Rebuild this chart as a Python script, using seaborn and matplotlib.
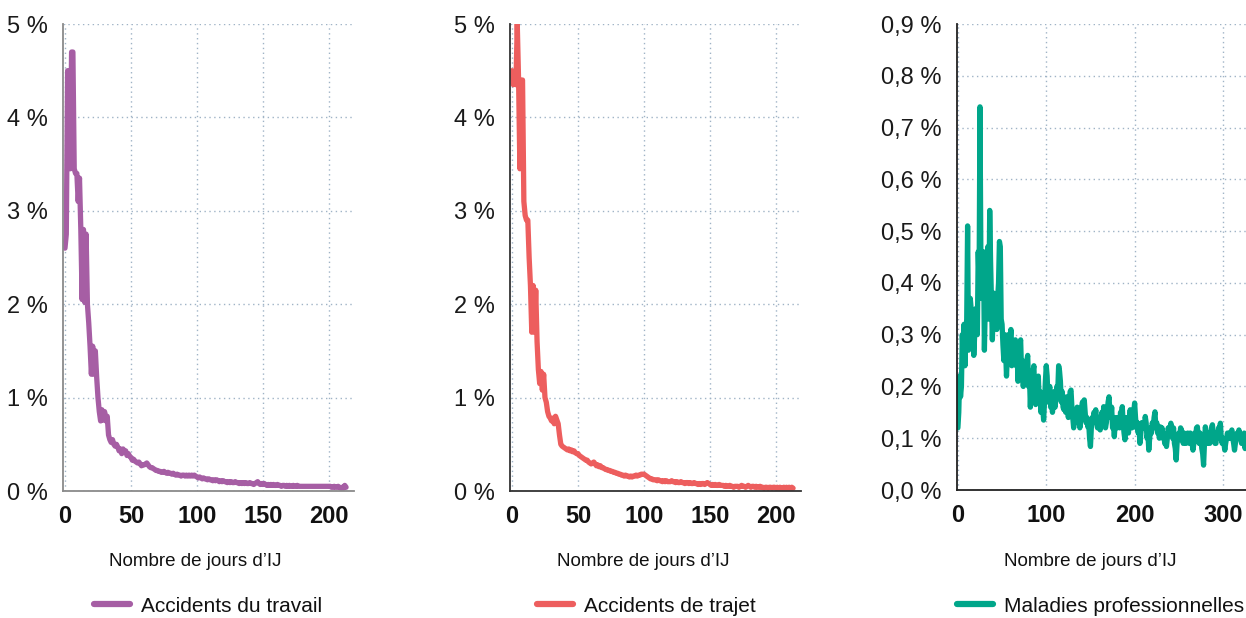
import matplotlib
matplotlib.use("Agg")
import matplotlib.pyplot as plt
from matplotlib import font_manager
from matplotlib.ticker import FuncFormatter, MultipleLocator
import numpy as np
import pandas as pd
import seaborn as sns

# Daily share (%) of indemnified cases by number of days of IJ
at_values = [
    2.6, 2.75, 4.5, 4.5, 3.45, 4.7, 4.7, 3.45, 3.4, 3.4,
    3.1, 3.35, 2.8, 2.05, 2.8, 2.02, 2.75, 2.0, 1.8, 1.55,
    1.25, 1.55, 1.25, 1.5, 1.22, 1.0, 0.85, 0.75, 0.87, 0.76,
    0.85, 0.75, 0.8, 0.6, 0.55, 0.52, 0.55, 0.5, 0.48, 0.5,
    0.47, 0.43, 0.45, 0.4, 0.45, 0.42, 0.43, 0.38, 0.40, 0.37,
    0.36, 0.33, 0.34, 0.32, 0.31, 0.30, 0.31, 0.29, 0.27, 0.28,
    0.28, 0.29, 0.30, 0.28, 0.26, 0.25, 0.25, 0.24, 0.23, 0.22,
    0.22, 0.21, 0.21, 0.20, 0.20, 0.21, 0.20, 0.19, 0.20, 0.19,
    0.19, 0.18, 0.19, 0.18, 0.17, 0.18, 0.17, 0.17, 0.16, 0.17,
    0.17, 0.16, 0.17, 0.16, 0.17, 0.16, 0.17, 0.16, 0.17, 0.16,
    0.15, 0.14, 0.15, 0.14, 0.13, 0.14, 0.13, 0.13, 0.12, 0.13,
    0.12, 0.12, 0.11, 0.12, 0.11, 0.12, 0.11, 0.10, 0.11, 0.10,
    0.11, 0.10, 0.10, 0.09, 0.10, 0.09, 0.10, 0.09, 0.09, 0.10,
    0.09, 0.09, 0.08, 0.09, 0.08, 0.09, 0.08, 0.09, 0.08, 0.08,
    0.09, 0.08, 0.08, 0.07, 0.08, 0.09, 0.10, 0.08, 0.07, 0.08,
    0.07, 0.08, 0.07, 0.06, 0.07, 0.06, 0.07, 0.06, 0.07, 0.06,
    0.06, 0.07, 0.06, 0.06, 0.05, 0.06, 0.06, 0.05, 0.06, 0.05,
    0.06, 0.05, 0.05, 0.06, 0.05, 0.05, 0.06, 0.05, 0.05, 0.05,
    0.05, 0.05, 0.05, 0.05, 0.05, 0.05, 0.05, 0.05, 0.05, 0.05,
    0.05, 0.05, 0.05, 0.05, 0.05, 0.05, 0.05, 0.05, 0.05, 0.05,
    0.05, 0.05, 0.04, 0.04, 0.05, 0.04, 0.04, 0.05, 0.04, 0.03,
    0.04, 0.03, 0.06, 0.04,
]

trajet_values = [
    4.5, 4.35, 4.4, 4.35, 5.0, 4.4, 3.45, 4.4, 4.4, 3.1,
    2.95, 2.9, 2.9, 2.5, 2.2, 1.7, 2.2, 1.7, 2.15, 1.6,
    1.3, 1.15, 1.28, 1.08, 1.25, 1.0, 0.95, 0.85, 0.8, 0.78,
    0.75, 0.78, 0.72, 0.8, 0.76, 0.72, 0.6, 0.5, 0.48, 0.47,
    0.46, 0.45, 0.44, 0.45, 0.43, 0.44, 0.42, 0.43, 0.41, 0.40,
    0.40, 0.38, 0.37, 0.36, 0.35, 0.34, 0.33, 0.33, 0.31, 0.30,
    0.29, 0.30, 0.31, 0.29, 0.27, 0.28, 0.26, 0.27, 0.25, 0.25,
    0.24, 0.23, 0.23, 0.22, 0.22, 0.21, 0.21, 0.20, 0.20, 0.19,
    0.19, 0.18, 0.18, 0.17, 0.17, 0.16, 0.17, 0.16, 0.16, 0.15,
    0.16, 0.15, 0.16, 0.16, 0.17, 0.16, 0.17, 0.17, 0.18, 0.18,
    0.18, 0.17, 0.16, 0.15, 0.14, 0.13, 0.13, 0.12, 0.12, 0.12,
    0.11, 0.12, 0.11, 0.11, 0.10, 0.11, 0.10, 0.11, 0.10, 0.10,
    0.10, 0.11, 0.10, 0.10, 0.09, 0.10, 0.09, 0.09, 0.10, 0.09,
    0.09, 0.08, 0.09, 0.09, 0.08, 0.09, 0.08, 0.08, 0.09, 0.08,
    0.08, 0.07, 0.08, 0.07, 0.08, 0.08, 0.07, 0.08, 0.09, 0.08,
    0.07, 0.06, 0.07, 0.06, 0.07, 0.06, 0.06, 0.07, 0.06, 0.06,
    0.06, 0.05, 0.06, 0.05, 0.05, 0.06, 0.05, 0.05, 0.04, 0.05,
    0.05, 0.05, 0.04, 0.05, 0.06, 0.05, 0.05, 0.04, 0.05, 0.06,
    0.05, 0.04, 0.05, 0.05, 0.04, 0.05, 0.04, 0.04, 0.05, 0.04,
    0.04, 0.03, 0.04, 0.04, 0.03, 0.04, 0.04, 0.03, 0.04, 0.04,
    0.03, 0.04, 0.03, 0.04, 0.03, 0.03, 0.04, 0.03, 0.04, 0.03,
    0.04, 0.03, 0.04, 0.03,
]

mp_values = [
    0.12, 0.15, 0.22, 0.18, 0.20, 0.30, 0.26, 0.32, 0.24, 0.30,
    0.33, 0.51, 0.27, 0.30, 0.37, 0.35, 0.28, 0.33, 0.26, 0.30,
    0.35, 0.31, 0.30, 0.46, 0.40, 0.74, 0.45, 0.37, 0.40, 0.46,
    0.27, 0.36, 0.38, 0.34, 0.47, 0.33, 0.54, 0.44, 0.36, 0.29,
    0.35, 0.38, 0.36, 0.34, 0.31, 0.37, 0.40, 0.48, 0.47, 0.33,
    0.32, 0.28, 0.25, 0.30, 0.27, 0.22, 0.26, 0.30, 0.26, 0.28,
    0.31, 0.24, 0.27, 0.25, 0.26, 0.29, 0.24, 0.27, 0.21, 0.25,
    0.28, 0.29, 0.23, 0.25, 0.20, 0.24, 0.22, 0.21, 0.25, 0.26,
    0.20, 0.22, 0.16, 0.21, 0.19, 0.23, 0.24, 0.18, 0.165, 0.20,
    0.21, 0.22, 0.17, 0.19, 0.15, 0.18, 0.16, 0.135, 0.17, 0.21,
    0.24, 0.22, 0.17, 0.19, 0.20, 0.16, 0.18, 0.15, 0.17, 0.19,
    0.16, 0.18, 0.20, 0.19, 0.24, 0.23, 0.21, 0.17, 0.19, 0.16,
    0.155, 0.17, 0.15, 0.18, 0.16, 0.14, 0.17, 0.19, 0.193, 0.16,
    0.14, 0.12, 0.15, 0.14, 0.13, 0.16, 0.15, 0.155, 0.12, 0.14,
    0.16, 0.17, 0.14, 0.174, 0.15, 0.13, 0.14, 0.122, 0.13, 0.10,
    0.084, 0.12, 0.14, 0.13, 0.15, 0.14, 0.155, 0.13, 0.12, 0.14,
    0.13, 0.116, 0.14, 0.15, 0.13, 0.161, 0.14, 0.12, 0.13, 0.15,
    0.17, 0.18, 0.15, 0.14, 0.16, 0.12, 0.13, 0.103, 0.13, 0.14,
    0.12, 0.13, 0.14, 0.12, 0.15, 0.14, 0.161, 0.13, 0.11, 0.097,
    0.12, 0.14, 0.13, 0.11, 0.14, 0.155, 0.13, 0.12, 0.14, 0.15,
    0.168, 0.14, 0.12, 0.13, 0.11, 0.12, 0.09, 0.11, 0.13, 0.12,
    0.13, 0.12, 0.142, 0.13, 0.10, 0.11, 0.077, 0.10, 0.12, 0.11,
    0.13, 0.12, 0.14, 0.151, 0.12, 0.13, 0.11, 0.12, 0.10, 0.122,
    0.11, 0.12, 0.10, 0.11, 0.09, 0.10, 0.084, 0.10, 0.12, 0.11,
    0.12, 0.129, 0.11, 0.10, 0.12, 0.09, 0.08, 0.058, 0.09, 0.10,
    0.11, 0.10, 0.12, 0.116, 0.10, 0.09, 0.11, 0.10, 0.09, 0.10,
    0.11, 0.10, 0.09, 0.11, 0.10, 0.09, 0.077, 0.09, 0.11, 0.10,
    0.12, 0.122, 0.10, 0.09, 0.11, 0.10, 0.08, 0.07, 0.048, 0.09,
    0.122, 0.11, 0.09, 0.10, 0.11, 0.09, 0.10, 0.12, 0.126, 0.11,
    0.10, 0.09, 0.09, 0.11, 0.10, 0.12, 0.11, 0.129, 0.10, 0.09,
    0.10, 0.09, 0.077, 0.09, 0.10, 0.11, 0.10, 0.11, 0.10, 0.11,
    0.116, 0.10, 0.09, 0.077, 0.09, 0.10, 0.11, 0.10, 0.116, 0.10,
    0.10, 0.09, 0.09, 0.10, 0.11, 0.08, 0.10,
]

series_names = ["Accidents du travail", "Accidents de trajet", "Maladies professionnelles"]
series_colors = ["#A65EA4", "#ED5E5E", "#00A68A"]
x_label = "Nombre de jours d\u2019IJ"

sns.set_theme(style="white")
installed = {f.name for f in font_manager.fontManager.ttflist}
base_font = "Liberation Sans Narrow" if "Liberation Sans Narrow" in installed else "Liberation Sans"
plt.rcParams["font.family"] = [base_font, "DejaVu Sans"]

W, H = 1246, 618
fig = plt.figure(figsize=(W / 100, H / 100), dpi=100)


def fig_rect(left_px, right_px, top_px, bottom_px):
    return [left_px / W, 1 - bottom_px / H, (right_px - left_px) / W, (bottom_px - top_px) / H]


panels = [
    dict(values=at_values, rect=fig_rect(63, 354, 24, 491), xlim=(-1.5, 219), ylim=(0, 5),
         ystep=1, xstep=50, fmt=lambda v, p: f"{v:.0f} %", spine="#8a8a8a",
         label_x=195, legend_x=94),
    dict(values=trajet_values, rect=fig_rect(510, 801, 24, 491), xlim=(-1.5, 219), ylim=(0, 5),
         ystep=1, xstep=50, fmt=lambda v, p: f"{v:.0f} %", spine="#333333",
         label_x=643, legend_x=537),
    dict(values=mp_values, rect=fig_rect(957, 1246, 24, 490), xlim=(-1, 326), ylim=(0, 0.9),
         ystep=0.1, xstep=100, fmt=lambda v, p: f"{v:.1f} %".replace(".", ","), spine="#222222",
         label_x=1090, legend_x=957),
]

for name, color, cfg in zip(series_names, series_colors, panels):
    ax = fig.add_axes(cfg["rect"])
    df = pd.DataFrame({"jour": np.arange(len(cfg["values"])), "part": cfg["values"]})
    sns.lineplot(data=df, x="jour", y="part", ax=ax, color=color, linewidth=3.8,
                 label=name, legend=False)
    ax.set_xlim(*cfg["xlim"])
    ax.set_ylim(*cfg["ylim"])
    ax.xaxis.set_major_locator(MultipleLocator(cfg["xstep"]))
    ax.yaxis.set_major_locator(MultipleLocator(cfg["ystep"]))
    ax.yaxis.set_major_formatter(FuncFormatter(cfg["fmt"]))
    ax.grid(True, linestyle=(0, (1, 2.5)), color="#9fb3c6", linewidth=1.0)
    ax.set_axisbelow(True)
    for side in ("top", "right"):
        ax.spines[side].set_visible(False)
    for side in ("left", "bottom"):
        ax.spines[side].set_color(cfg["spine"])
        ax.spines[side].set_linewidth(1.3)
    ax.tick_params(axis="y", length=0, pad=11, labelsize=17, colors="#1a1a1a")
    ax.tick_params(axis="x", length=0, pad=10, labelsize=17, colors="#111111")
    for t in ax.get_xticklabels():
        t.set_fontweight("bold")
    ax.set_ylabel("")
    ax.set_xlabel(x_label, fontsize=13.5, color="#111111")
    left_px = cfg["rect"][0] * W
    width_px = cfg["rect"][2] * W
    ax.xaxis.set_label_coords((cfg["label_x"] - left_px) / width_px,
                              -(562 - 491) / (cfg["rect"][3] * H))
    ax.xaxis.label.set_va("center")
    leg = ax.legend(loc="center left", bbox_to_anchor=(cfg["legend_x"] / W, 1 - 606 / H),
                    bbox_transform=fig.transFigure, frameon=False, fontsize=15,
                    handlelength=1.75, handletextpad=0.5, borderpad=0, borderaxespad=0)
    for line in leg.get_lines():
        line.set_linewidth(4.5)
    for t in leg.get_texts():
        t.set_color("#111111")

fig.savefig("out.png", dpi=100)
